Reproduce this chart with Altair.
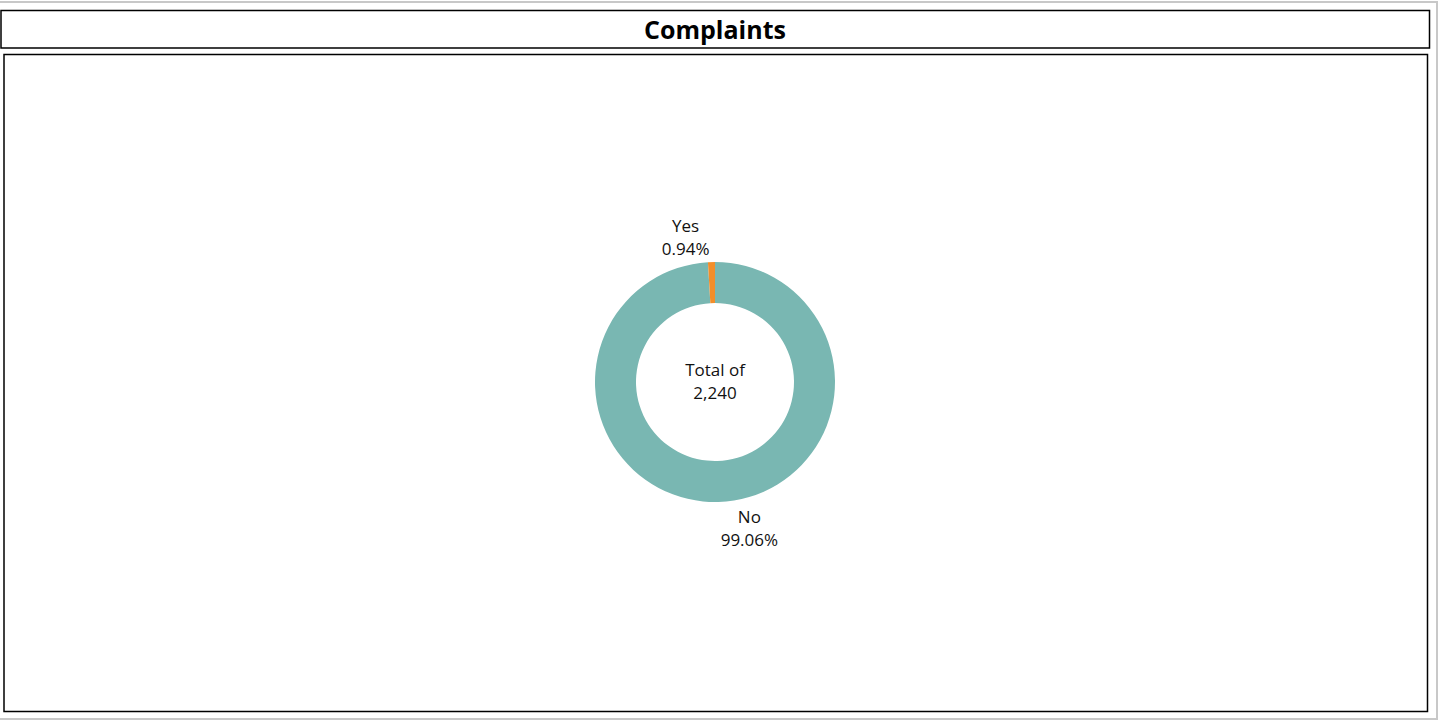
import altair as alt
import pandas as pd

# Data
categories = ["No", "Yes"]
counts = [2219, 21]
order_idx = [0, 1]
title_text = "Complaints"

total = sum(counts)
pcts = [c / total * 100 for c in counts]
df = pd.DataFrame({
    "category": categories,
    "count": counts,
    "ord": order_idx,
    "label": [f"{c}\n{p:.2f}%" for c, p in zip(categories, pcts)],
})
center_df = pd.DataFrame({"t": [f"Total of\n{total:,}"]})
title_df = pd.DataFrame({"t": [title_text]})

FONT = "Open Sans"
CX, CY = 715, 382
TXT = "#111111"
FS = 17

color_scale = alt.Scale(domain=["No", "Yes"], range=["#79b7b2", "#f28e2b"])

outer = alt.Chart(title_df).mark_rect(fill="white", stroke="#c8c8c8", strokeWidth=2).encode(
    x=alt.value(-5), x2=alt.value(1437), y=alt.value(2), y2=alt.value(719)
)
title_box = alt.Chart(title_df).mark_rect(fill="white", stroke="black", strokeWidth=1.5).encode(
    x=alt.value(1), x2=alt.value(1429.5), y=alt.value(10.5), y2=alt.value(48)
)
plot_box = alt.Chart(title_df).mark_rect(fill="white", stroke="black", strokeWidth=1.5).encode(
    x=alt.value(4), x2=alt.value(1427.5), y=alt.value(54.5), y2=alt.value(711.5)
)
title = alt.Chart(title_df).mark_text(
    font=FONT, fontSize=25, fontWeight="bold", color="black", baseline="middle", align="center"
).encode(text="t:N", x=alt.value(715), y=alt.value(31))

arc = alt.Chart(df).mark_arc(innerRadius=79, outerRadius=120).encode(
    theta=alt.Theta("count:Q", stack=True),
    color=alt.Color("category:N", scale=color_scale, legend=None),
    order=alt.Order("ord:Q"),
    x=alt.value(CX), y=alt.value(CY),
)

def label_layer(cat, dx, dy):
    return alt.Chart(df).transform_stack(
        stack="count", groupby=[], as_=["s0", "s1"], sort=[alt.SortField("ord")]
    ).transform_calculate(
        mid="(datum.s0 + datum.s1) / 2"
    ).transform_filter(alt.datum.category == cat).mark_text(
        font=FONT, fontSize=FS, color=TXT, lineBreak="\n", lineHeight=23,
        align="center", baseline="middle", dx=dx, dy=dy,
    ).encode(
        theta=alt.Theta("mid:Q", stack=None, scale=alt.Scale(domain=[0, total])),
        radius=alt.value(148),
        text="label:N",
        x=alt.value(CX), y=alt.value(CY),
    )

center_text = alt.Chart(center_df).mark_text(
    font=FONT, fontSize=FS, color=TXT, lineBreak="\n", lineHeight=23,
    align="center", baseline="middle", dy=-11,
).encode(text="t:N", x=alt.value(CX), y=alt.value(CY))

chart = alt.layer(
    outer, title_box, plot_box, title, arc,
    label_layer("Yes", -25, -7), label_layer("No", 30, -12), center_text,
).resolve_scale(theta="independent").properties(
    width=1439, height=722, padding=0, autosize="none"
).configure_view(stroke=None)

chart.save("out.html", embed_options={"renderer": "svg", "actions": False})
